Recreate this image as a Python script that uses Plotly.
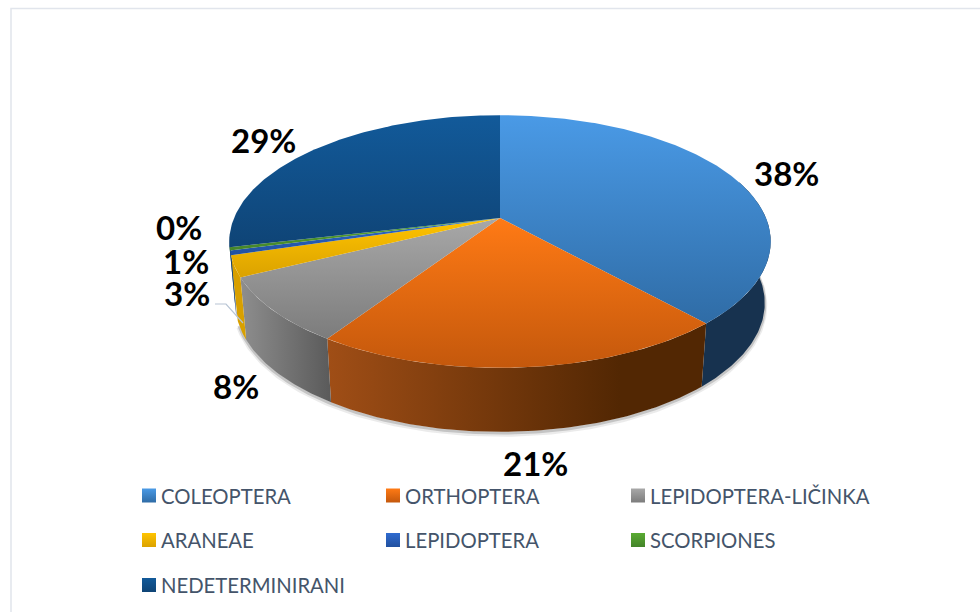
import numpy as np
import plotly.graph_objects as go

categories = ["COLEOPTERA", "ORTHOPTERA", "LEPIDOPTERA-LIČINKA", "ARANEAE", "LEPIDOPTERA", "SCORPIONES", "NEDETERMINIRANI"]
values = [38.4, 20.9, 8.4, 2.7, 0.6, 0.4, 28.7]

top_light = ["#4a9ae6", "#ff7a15", "#a8a8a8", "#ffc400", "#2f6bd0", "#5aab32", "#125a9a"]
top_dark = ["#2f6ca6", "#c4580c", "#7c7c7c", "#dba200", "#21509f", "#44842a", "#0f4476"]
side_left = ["#17324f", "#a04e16", "#8e8e8e", "#d8a000", "#1d4488", "#3a7324", "#103c66"]
side_right = ["#17324f", "#522703", "#5a5a5a", "#d8a000", "#1d4488", "#3a7324", "#103c66"]

label_x = [786, 535, 236, 187, 186, 179, 263]
label_y = [173, 463, 386, 293, 261, 227, 140]
legend_col = [142, 386, 631, 142, 386, 631, 142]
legend_row = [495.5, 495.5, 495.5, 540, 540, 540, 585]

CX, CY, R, B, K = 500.0, 218.0, 266.0, 122.0, 0.186
SX, DEPTH, DV = 0.978, 61.0, 3.0


def top_xy(t):
    u, v = np.sin(t), -np.cos(t)
    d = 1 - K * v
    return CX + R * u / d, CY + B * v / d


def bottom_xy(t):
    x, y = top_xy(t)
    return CX + (x - CX) * SX, y + DEPTH + DV * (-np.cos(t))


def arc(a, b):
    return np.linspace(a, b, max(3, int(abs(b - a) * 80)))


def grad(kind, c0, c1, start, stop):
    return dict(type=kind, colorscale=[[0, c0], [1, c1]], start=start, stop=stop)


fig = go.Figure()

total = sum(values)
edges = np.concatenate([[0], np.cumsum(values)]) / total * 2 * np.pi

# contact shadow along the lower rim
ts = arc(np.radians(72), np.radians(250))
for off, alpha, w in [(2.5, 0.10, 5), (1.2, 0.22, 3)]:
    sx, sy = bottom_xy(ts)
    fig.add_trace(go.Scatter(x=sx, y=sy + off, mode="lines", hoverinfo="skip",
                             line=dict(color=f"rgba(60,60,60,{alpha})", width=w)))

# rim, only its front part can be seen
lo, hi = np.radians(72), np.radians(262)
for i in range(len(values)):
    a, b = max(edges[i], lo), min(edges[i + 1], hi)
    if b <= a:
        continue
    t = arc(a, b)
    x1, y1 = top_xy(t)
    x2, y2 = bottom_xy(t[::-1])
    x = np.concatenate([x1, x2, x1[:1]])
    y = np.concatenate([y1, y2, y1[:1]])
    xmin, xmax = float(x.min()), float(x.max())
    if i == 1:
        xmax = 620.0
    fig.add_trace(go.Scatter(x=x, y=y, mode="lines", line=dict(width=0), fill="toself",
                             fillgradient=grad("horizontal", side_left[i], side_right[i], xmin, xmax),
                             hoverinfo="skip"))

# top faces
for i in range(len(values)):
    t = arc(edges[i], edges[i + 1])
    ax, ay = top_xy(t)
    x = np.concatenate([[CX], ax, [CX]])
    y = np.concatenate([[CY], ay, [CY]])
    fig.add_trace(go.Scatter(x=x, y=y, mode="lines", line=dict(width=0), fill="toself",
                             fillgradient=grad("vertical", top_light[i], top_dark[i], float(y.min()), float(y.max())),
                             name=categories[i], hoverinfo="name"))

# leader line of the 3% label
fig.add_shape(type="path", path="M 215 304 L 226 304 L 243 323",
              line=dict(color="#b7c4d4", width=1.2))

# value labels
for i in range(len(values)):
    fig.add_annotation(x=label_x[i], y=label_y[i], text=f"{round(values[i])}%", showarrow=False,
                       font=dict(family="Lato", size=33, color="#000000", weight="bold"),
                       xanchor="center", yanchor="middle")

# legend
for i in range(len(categories)):
    fig.add_trace(go.Scatter(x=[legend_col[i] + 7], y=[legend_row[i]], mode="markers", hoverinfo="skip",
                             marker=dict(symbol="square", size=14, color=top_light[i], line=dict(width=0),
                                         gradient=dict(type="vertical", color=top_dark[i]))))
    fig.add_annotation(x=legend_col[i] + 17, y=legend_row[i], text=categories[i], showarrow=False,
                       font=dict(family="Lato", size=20.3, color="#44546a"),
                       xanchor="left", yanchor="middle")

# chart area border
fig.add_shape(type="rect", x0=11, y0=8.5, x1=1100, y1=700, line=dict(color="#e1e5ec", width=1.5), layer="below")

fig.update_layout(
    width=980, height=612, margin=dict(l=0, r=0, t=0, b=0),
    paper_bgcolor="white", plot_bgcolor="white", showlegend=False,
    xaxis=dict(range=[0, 980], visible=False, fixedrange=True),
    yaxis=dict(range=[612, 0], visible=False, fixedrange=True),
)
fig.write_html("out.html", config=dict(displayModeBar=False), post_script="document.body.style.margin='0';")
